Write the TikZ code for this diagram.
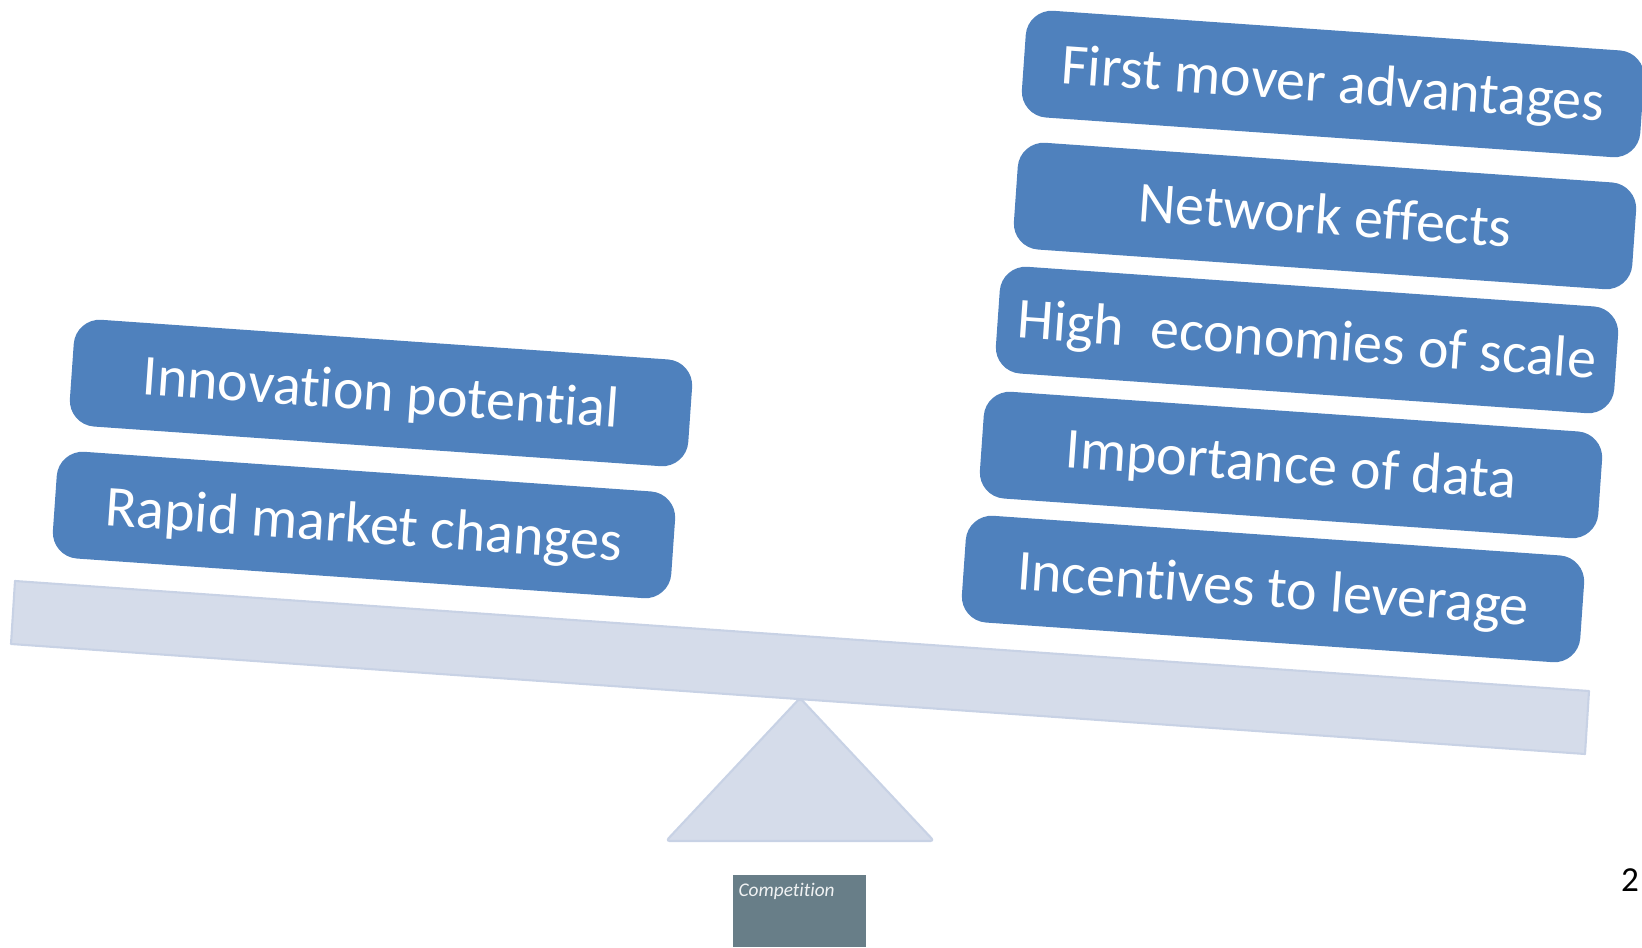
\documentclass[tikz,border=0pt]{standalone}
\usepackage{fontspec}
\setmainfont{Carlito}[Ligatures={NoCommon,NoRequired,NoContextual}, Contextuals=NoAlternate]
\usepackage{tikz}

\definecolor{boxblue}{HTML}{4F81BD}
\definecolor{beamfill}{HTML}{D5DCEA}
\definecolor{beamedge}{HTML}{C8D2E5}
\definecolor{compgray}{HTML}{687E88}

\begin{document}
\begin{tikzpicture}[x=0.02cm, y=0.02cm,
			factor/.style = {shape=rectangle, rounded corners=0.52cm,
				fill=boxblue, text=white, rotate=-4,
				minimum width=12.4cm, minimum height=2.14cm, inner sep=0pt,
				text height=0.73cm, text depth=0pt,
				font=\fontsize{33}{40}\selectfont},
			seesaw/.style = {fill=beamfill, draw=beamedge, line width=1.2pt, line join=round}]
			\useasboundingbox (0,0) rectangle (1642,947);
			% beam and fulcrum
			\filldraw[seesaw] (15,366) -- (1589,256) -- (1585,193) -- (11,303) -- cycle;
			\filldraw[seesaw, rounded corners=2pt] (800,249) -- (934,106) -- (666,106) -- cycle;
			% left side
			\node[factor] (innov) at (381,554) {Innovation potential};
			\node[factor] (rapid) at (364,422) {Rapid market changes};
			% right side
			\node[factor] (firstmover) at (1333,863) {First mover advantages};
			\node[factor] (network) at (1325,731) {Network effects};
			\node[factor] (scale) at (1307,607) {High~ economies of scale};
			\node[factor] (data) at (1291,482) {Importance of data};
			\node[factor] (leverage) at (1273,358) {Incentives to leverage};
			% bottom
			\node[fill=compgray, anchor=south west, minimum width=2.66cm, minimum height=1.44cm, inner sep=0pt] (comp) at (733,0) {};
			\node[anchor=north west, text=white!90!compgray, font=\fontsize{11}{13}\selectfont\itshape, inner xsep=3pt, inner ysep=5pt] (complabel) at (comp.north west) {Competition};
			\node[font=\fontsize{20}{24}\selectfont] (page) at (1630,67) {2};
		\end{tikzpicture}
\end{document}
